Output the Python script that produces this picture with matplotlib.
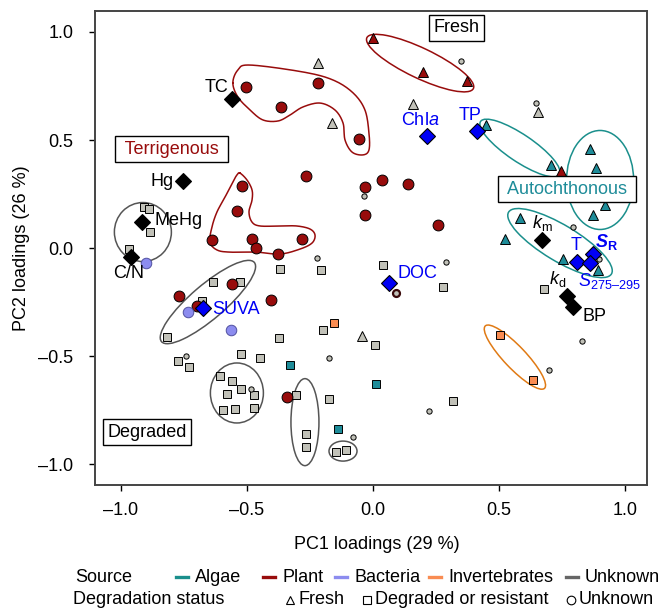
import numpy as np
import matplotlib
matplotlib.use("Agg")
import matplotlib.pyplot as plt
from matplotlib.patches import Ellipse
from matplotlib.lines import Line2D
from matplotlib.transforms import ScaledTranslation

# ---- data (PC1, PC2 loadings) ----
plant_circ_x = [-0.504, -0.218, -0.365, -0.056, -0.266, -0.032, -0.032, 0.036, 0.139, 0.258,
                -0.520, -0.540, -0.639, -0.480, -0.464, -0.282, -0.377, -0.560, -0.770, -0.698,
                -0.405, -0.341]
plant_circ_y = [0.745, 0.764, 0.653, 0.505, 0.333, 0.282, 0.153, 0.315, 0.296, 0.106,
                0.287, 0.171, 0.037, 0.042, 0.000, 0.042, -0.028, -0.167, -0.222, -0.269,
                -0.241, -0.690]
plant_tri_x = [0.000, 0.198, 0.373, 0.746]
plant_tri_y = [0.972, 0.815, 0.773, 0.356]
plant_ring_x = [0.091]
plant_ring_y = [-0.208]

algae_tri_x = [0.448, 0.706, 0.861, 0.885, 0.921, 0.873, 0.583, 0.524, 0.754, 0.893]
algae_tri_y = [0.569, 0.384, 0.458, 0.370, 0.199, 0.153, 0.139, 0.042, -0.051, -0.102]
algae_sq_x = [-0.329, 0.012, -0.139]
algae_sq_y = [-0.542, -0.630, -0.838]

invert_sq_x = [-0.155, 0.504, 0.635]
invert_sq_y = [-0.347, -0.403, -0.611]

bact_circ_x = [-0.901, -0.734, -0.563]
bact_circ_y = [-0.069, -0.296, -0.380]

unk_tri_x = [-0.218, -0.163, 0.159, 0.655, -0.044]
unk_tri_y = [0.856, 0.579, 0.667, 0.630, -0.407]
unk_small_x = [0.349, 0.647, -0.036, 0.794, 0.897, -0.222, 0.290, -0.742, -0.175, -0.484,
               -0.079, 0.829, 0.698, 0.222]
unk_small_y = [0.866, 0.671, 0.241, 0.097, -0.051, -0.046, -0.065, -0.500, -0.509, -0.653,
               -0.875, -0.431, -0.565, -0.755]
unk_sq_x = [-0.909, -0.889, -0.885, -0.968, -0.635, -0.528, -0.679, -0.817, -0.369, -0.206,
            0.040, 0.278, 0.679, -0.373, -0.198, -0.774, -0.730, -0.524, -0.448, 0.008,
            -0.607, -0.560, -0.524, -0.472, -0.579, -0.595, -0.548, -0.472, -0.306, -0.175,
            -0.266, -0.266, -0.147, -0.107, 0.317]
unk_sq_y = [0.190, 0.181, 0.074, -0.005, -0.157, -0.157, -0.245, -0.412, -0.097, -0.102,
            -0.079, -0.181, -0.190, -0.417, -0.380, -0.523, -0.551, -0.491, -0.509, -0.449,
            -0.593, -0.616, -0.653, -0.681, -0.676, -0.750, -0.745, -0.741, -0.681, -0.699,
            -0.861, -0.921, -0.944, -0.935, -0.708]

# environmental variables (diamonds)
LAB_KM = r"$k_{\mathrm{m}}$"
LAB_KD = r"$k_{\mathrm{d}}$"
LAB_CHLA = r"Chl$\mathit{a}$"
LAB_SR = r"$\mathbfit{S}_{\mathbf{R}}$"
LAB_S275 = "$S_{\\mathrm{275–295}}$"
var_labels = ["TC", "Hg", "MeHg", "C/N", LAB_KM, LAB_KD, "BP", LAB_CHLA, "TP", "DOC", "SUVA",
              "T", LAB_SR, LAB_S275]
var_x = [-0.560, -0.754, -0.917, -0.960, 0.671, 0.770, 0.794, 0.214, 0.413, 0.063, -0.675,
         0.810, 0.873, 0.861]
var_y = [0.690, 0.310, 0.120, -0.042, 0.037, -0.222, -0.273, 0.519, 0.542, -0.162, -0.278,
         -0.065, -0.028, -0.069]
var_blue = [False, False, False, False, False, False, False, True, True, True, True, True,
            True, True]

# outlined groups
blob_upper_x = [-0.556, -0.536, -0.488, -0.278, -0.159, -0.079, -0.032, -0.016, -0.016, -0.040,
                -0.083, -0.111, -0.119, -0.151, -0.210, -0.278, -0.329, -0.377, -0.437, -0.488,
                -0.536]
blob_upper_y = [0.764, 0.824, 0.847, 0.815, 0.778, 0.718, 0.639, 0.532, 0.454, 0.431,
                0.444, 0.500, 0.579, 0.639, 0.671, 0.653, 0.616, 0.588, 0.593, 0.639,
                0.699]
blob_lower_x = [-0.528, -0.500, -0.480, -0.480, -0.492, -0.480, -0.448, -0.369, -0.302, -0.250,
                -0.230, -0.242, -0.290, -0.369, -0.460, -0.567, -0.619, -0.647, -0.639, -0.619,
                -0.587, -0.556, -0.540]
blob_lower_y = [0.347, 0.315, 0.269, 0.222, 0.167, 0.120, 0.102, 0.102, 0.102, 0.088,
                0.060, 0.023, -0.005, -0.028, -0.019, -0.019, -0.009, 0.028, 0.097, 0.167,
                0.236, 0.306, 0.338]

# ellipses: centre (data), width/height in pixels, angle, group
ell_x = [0.187, 0.583, 0.901, 0.742, -0.655, -0.913, -0.540, -0.270, -0.119, 0.563]
ell_y = [0.856, 0.463, 0.315, 0.023, -0.250, 0.074, -0.671, -0.806, -0.940, -0.505]
ell_w = [118, 95, 67, 120, 122, 57, 53, 28, 28, 86]
ell_h = [30, 27, 99, 36, 34, 59, 60, 87, 20, 22]
ell_ang = [-25.5, -34, 0, -31, 40.5, 0, 0, 0, 0, -46.5]
ell_grp = ["plant", "algae", "algae", "algae", "unk", "unk", "unk", "unk", "unk", "invert"]

TEAL = "#1e8c99"
TEAL_LINE = "#1a8f8c"
PLANT = "#980c0c"
BACT = "#8c8cef"
INVERT = "#f98c52"
INVERT_LINE = "#e07a14"
GREY = "#c1c1b8"
GREY_LINE = "#555555"
BLUE = "#0000f5"
line_col = {"plant": PLANT, "algae": TEAL_LINE, "unk": GREY_LINE, "invert": INVERT_LINE}

plt.rcParams["font.family"] = ["Liberation Sans", "DejaVu Sans"]
plt.rcParams["font.size"] = 13
plt.rcParams["mathtext.fontset"] = "custom"
plt.rcParams["mathtext.rm"] = "Liberation Sans"
plt.rcParams["mathtext.it"] = "Liberation Sans:italic"
plt.rcParams["mathtext.bf"] = "Liberation Sans:bold"
plt.rcParams["mathtext.bfit"] = "Liberation Sans:bold:italic"


def smooth_closed(x, y, n=16):
    """Catmull-Rom through the outline points, closed."""
    p = np.column_stack([x, y])
    m = len(p)
    out = []
    for i in range(m):
        p0, p1, p2, p3 = p[i - 1], p[i], p[(i + 1) % m], p[(i + 2) % m]
        for t in np.linspace(0, 1, n, endpoint=False):
            out.append(0.5 * (2 * p1 + (-p0 + p2) * t + (2 * p0 - 5 * p1 + 4 * p2 - p3) * t ** 2
                              + (-p0 + 3 * p1 - 3 * p2 + p3) * t ** 3))
    out.append(out[0])
    return np.array(out)


fig = plt.figure(figsize=(6.62, 6.10), dpi=100)
ax = fig.add_axes([0.1435, 0.2049, 0.8338, 0.7770])
ax.set_xlim(-1.103, 1.087)
ax.set_ylim(-1.097, 1.097)

# group outlines
for bx, by in [(blob_upper_x, blob_upper_y), (blob_lower_x, blob_lower_y)]:
    s = smooth_closed(bx, by)
    ax.plot(s[:, 0], s[:, 1], color=PLANT, lw=1.1, zorder=2)

for cx, cy, w, h, a, g in zip(ell_x, ell_y, ell_w, ell_h, ell_ang, ell_grp):
    tr = fig.dpi_scale_trans + ScaledTranslation(cx, cy, ax.transData)
    ax.add_patch(Ellipse((0, 0), w / 100, h / 100, angle=a, fill=False,
                         ec=line_col[g], lw=1.1, transform=tr, zorder=2))

mk = dict(ls="none", mec="black", mew=0.7, zorder=4)
ax.plot(unk_sq_x, unk_sq_y, "s", ms=5.3, mfc=GREY, **mk)
ax.plot(unk_small_x, unk_small_y, "o", ms=3.8, mfc=GREY, **mk)
ax.plot(unk_tri_x, unk_tri_y, "^", ms=6.5, mfc=GREY, **mk)
ax.plot(plant_circ_x, plant_circ_y, "o", ms=7.8, mfc=PLANT, **mk)
ax.plot(plant_tri_x, plant_tri_y, "^", ms=6.5, mfc=PLANT, **mk)
ax.plot(plant_ring_x, plant_ring_y, "o", ms=5, mfc=GREY, ls="none", mec="#3a0a0a", mew=1.6, zorder=4)
ax.plot(algae_tri_x, algae_tri_y, "^", ms=6.5, mfc=TEAL, **mk)
ax.plot(algae_sq_x, algae_sq_y, "s", ms=5.8, mfc=TEAL, **mk)
ax.plot(invert_sq_x, invert_sq_y, "s", ms=5.8, mfc=INVERT, **mk)
ax.plot(bact_circ_x, bact_circ_y, "o", ms=7.6, mfc=BACT, mec="#5050a0", mew=0.7, ls="none", zorder=4)

# variable diamonds + labels (offsets in points)
label_off = {"TC": (-11, 8, "center"), "Hg": (-7, 0, "right"), "MeHg": (9, 1, "left"),
             "C/N": (-2, -12, "center"), LAB_KM: (0, 12, "center"),
             LAB_KD: (-7, 12, "center"), "BP": (7, -7, "left"),
             LAB_CHLA: (-5, 11, "center"), "TP": (-5, 11, "center"),
             "DOC": (6, 7, "left"), "SUVA": (7, -1, "left"), "T": (-1, 12, "center"),
             LAB_SR: (10, 9, "center"), LAB_S275: (-9, -13, "left")}
for lab, x, y, blue in zip(var_labels, var_x, var_y, var_blue):
    ax.plot(x, y, "D", ms=8.5, mfc=BLUE if blue else "black", mec="black", mew=0.8, zorder=5)
    dx, dy, ha = label_off[lab]
    ax.annotate(lab, (x, y), xytext=(dx, dy), textcoords="offset points", ha=ha, va="center",
                color=BLUE if blue else "black", fontsize=13, zorder=6)

# boxed region labels
box = dict(boxstyle="square,pad=0.25", fc="white", ec="black", lw=1.0)
ax.text(0.333, 1.019, "Fresh", ha="center", va="center", bbox=box, zorder=6)
ax.text(-0.798, 0.458, " Terrigenous ", ha="center", va="center", color=PLANT, bbox=box, zorder=6)
ax.text(0.770, 0.273, " Autochthonous ", ha="center", va="center", color=TEAL, bbox=box, zorder=6)
ax.text(-0.897, -0.852, "Degraded", ha="center", va="center", bbox=box, zorder=6)

# axes styling
ax.set_xticks([-1.0, -0.5, 0.0, 0.5, 1.0])
ax.set_yticks([-1.0, -0.5, 0.0, 0.5, 1.0])
fmt = lambda v: f"{v:.1f}".replace("-", "\u2013")
ax.set_xticklabels([fmt(v) for v in ax.get_xticks()])
ax.set_yticklabels([fmt(v) for v in ax.get_yticks()])
ax.tick_params(direction="out", length=4.5, width=1.0, labelsize=13, pad=8)
ax.tick_params(axis="y", pad=11)
for sp in ax.spines.values():
    sp.set_linewidth(1.4)
    sp.set_color("#444444")
ax.set_xlabel("PC1 loadings (29 %)", fontsize=13)
ax.set_ylabel("PC2 loadings (26 %)", fontsize=13)
ax.xaxis.set_label_coords(0.51, -0.108)
ax.yaxis.set_label_coords(-0.118, 0.5)

# custom legend below the axes
row1, row2 = 1 - 577 / 610, 1 - 600 / 610
fig.text(75 / 662, row1, "Source", ha="left", va="center", fontsize=13)
src_names = ["Algae", "Plant", "Bacteria", "Invertebrates", "Unknown"]
src_cols = [TEAL_LINE, PLANT, BACT, INVERT, "#666666"]
src_line_x = [176, 263, 335, 429, 566]
for name, col, lx in zip(src_names, src_cols, src_line_x):
    fig.add_artist(Line2D([lx / 662, (lx + 12) / 662], [row1, row1], color=col, lw=2.4,
                          transform=fig.transFigure))
    fig.text((lx + 19) / 662, row1, name, ha="left", va="center", fontsize=13)

fig.text(73 / 662, row2, "Degradation status", ha="left", va="center", fontsize=13)
deg_names = ["Fresh", "Degraded or resistant", "Unknown"]
deg_marks = ["^", "s", "o"]
deg_mark_x = [290, 367, 571]
for name, m, mx in zip(deg_names, deg_marks, deg_mark_x):
    fig.add_artist(Line2D([mx / 662], [row2], marker=m, ms=6.2, mfc="white", mec="black", mew=0.8,
                          ls="none", transform=fig.transFigure))
    fig.text((mx + 8) / 662, row2, name, ha="left", va="center", fontsize=13)

fig.savefig("out.png", dpi=100)
